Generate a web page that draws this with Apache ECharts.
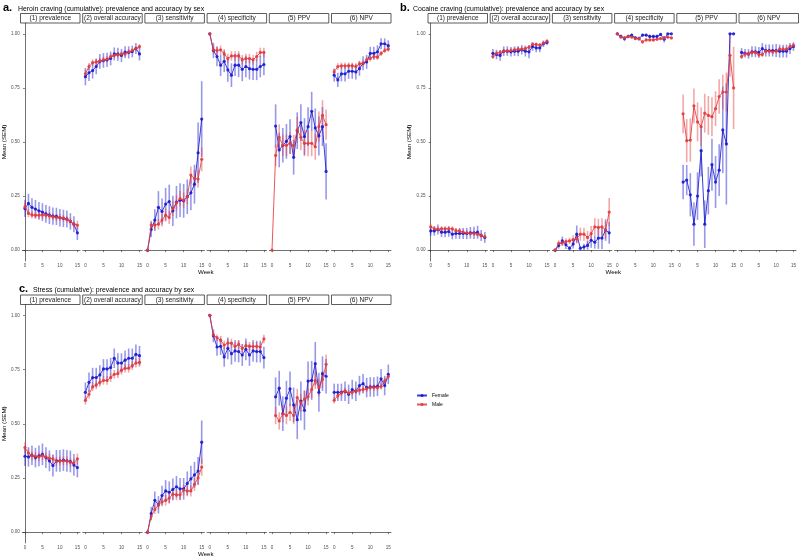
<!DOCTYPE html>
<html><head><meta charset="utf-8">
<script src="https://cdn.jsdelivr.net/npm/echarts@6/dist/echarts.min.js"></script>
<style>html,body{margin:0;padding:0;background:#fff}#c{width:799px;height:557px}</style>
</head><body><div id="c"></div>
<script>
const weeks = [0,1,2,3,4,5,6,7,8,9,10,11,12,13,14,15];
const facetNames = ['(1) prevalence','(2) overall accuracy','(3) sensitivity','(4) specificity','(5) PPV','(6) NPV'];
const xTicks = [0,5,10,15];
const yTicks = [0,0.25,0.5,0.75,1];
const sexes = ['Female','Male'];
const titleA = 'Heroin craving (cumulative): prevalence and accuracy by sex';
const titleB = 'Cocaine craving (cumulative): prevalence and accuracy by sex';
const titleC = 'Stress (cumulative): prevalence and accuracy by sex';

// ---- Panel a: Heroin craving ----
const A1_F = [0.193,0.216,0.198,0.190,0.182,0.176,0.168,0.162,0.157,0.156,0.150,0.147,0.144,0.133,0.120,0.080];
const A1_F_SE = [0.040,0.045,0.042,0.042,0.041,0.041,0.041,0.041,0.040,0.040,0.040,0.040,0.039,0.038,0.037,0.033];
const A1_M = [0.200,0.170,0.163,0.162,0.162,0.163,0.162,0.159,0.154,0.151,0.151,0.148,0.142,0.133,0.120,0.116];
const A1_M_SE = [0.018,0.018,0.017,0.017,0.017,0.017,0.016,0.016,0.016,0.016,0.016,0.015,0.015,0.015,0.015,0.020];
const A2_F = [0.802,0.820,0.830,0.849,0.873,0.877,0.880,0.886,0.907,0.906,0.900,0.915,0.914,0.918,0.932,0.907];
const A2_F_SE = [0.040,0.038,0.037,0.036,0.034,0.034,0.033,0.032,0.030,0.030,0.030,0.028,0.028,0.027,0.025,0.030];
const A2_M = [0.815,0.849,0.867,0.870,0.875,0.880,0.883,0.895,0.900,0.903,0.907,0.907,0.917,0.923,0.932,0.941];
const A2_M_SE = [0.018,0.016,0.015,0.015,0.014,0.014,0.014,0.013,0.013,0.013,0.012,0.012,0.012,0.011,0.011,0.012];
const A3_F = [0,0.096,0.139,0.198,0.179,0.213,0.225,0.182,0.222,0.231,0.228,0.247,0.265,0.305,0.450,0.606];
const A3_F_SE = [0,0.035,0.050,0.075,0.060,0.075,0.078,0.070,0.075,0.078,0.078,0.080,0.080,0.090,0.140,0.175];
const A3_M = [0,0.116,0.116,0.120,0.139,0.162,0.151,0.193,0.219,0.238,0.231,0.247,0.347,0.331,0.329,0.420];
const A3_M_SE = [0,0.020,0.020,0.025,0.030,0.030,0.030,0.035,0.035,0.035,0.035,0.035,0.040,0.040,0.040,0.055];
const A4_F = [1.000,0.923,0.895,0.855,0.873,0.833,0.809,0.855,0.855,0.836,0.849,0.839,0.836,0.836,0.849,0.858];
const A4_F_SE = [0,0.035,0.045,0.050,0.050,0.055,0.055,0.050,0.055,0.055,0.050,0.050,0.050,0.050,0.050,0.050];
const A4_M = [1.000,0.926,0.923,0.926,0.907,0.886,0.898,0.898,0.898,0.880,0.886,0.886,0.880,0.895,0.914,0.914];
const A4_M_SE = [0,0.020,0.020,0.020,0.022,0.022,0.022,0.022,0.022,0.022,0.022,0.022,0.022,0.022,0.022,0.022];
const A5_F = [null,0.574,0.463,0.485,0.503,0.525,0.429,0.552,0.590,0.525,0.571,0.642,0.565,0.528,0.571,0.364];
const A5_F_SE = [null,0.100,0.080,0.080,0.080,0.080,0.080,0.085,0.085,0.085,0.090,0.090,0.090,0.090,0.090,0.130];
const A5_M = [0.000,0.438,0.522,0.485,0.485,0.494,0.483,0.556,0.522,0.494,0.494,0.494,0.478,0.571,0.623,0.580];
const A5_M_SE = [0,0.050,0.060,0.050,0.050,0.050,0.050,0.060,0.060,0.060,0.060,0.060,0.060,0.070,0.070,0.070];
const A6_F = [0.809,0.787,0.815,0.815,0.827,0.827,0.824,0.839,0.864,0.870,0.910,0.910,0.917,0.954,0.954,0.945];
const A6_F_SE = [0.030,0.033,0.035,0.035,0.035,0.035,0.035,0.033,0.032,0.032,0.030,0.030,0.030,0.025,0.025,0.025];
const A6_M = [0.824,0.849,0.852,0.852,0.852,0.852,0.849,0.861,0.864,0.880,0.886,0.895,0.892,0.910,0.923,0.930];
const A6_M_SE = [0.015,0.015,0.015,0.015,0.015,0.015,0.015,0.015,0.014,0.014,0.014,0.013,0.013,0.012,0.012,0.012];

// ---- Panel b: Cocaine craving ----
const B1_F = [0.089,0.089,0.096,0.083,0.083,0.086,0.074,0.077,0.077,0.077,0.077,0.080,0.080,0.083,0.068,0.059];
const B1_F_SE = [0.022,0.022,0.023,0.023,0.023,0.024,0.024,0.024,0.025,0.025,0.026,0.027,0.028,0.030,0.025,0.025];
const B1_M = [0.108,0.099,0.096,0.099,0.099,0.099,0.099,0.089,0.089,0.083,0.080,0.077,0.077,0.074,0.068,0.062];
const B1_M_SE = [0.012,0.012,0.012,0.012,0.012,0.012,0.012,0.012,0.011,0.011,0.011,0.011,0.011,0.011,0.011,0.011];
const B2_F = [0.910,0.904,0.900,0.920,0.920,0.917,0.920,0.920,0.926,0.920,0.917,0.941,0.935,0.935,0.954,0.960];
const B2_F_SE = [0.020,0.022,0.025,0.022,0.022,0.022,0.022,0.024,0.022,0.025,0.030,0.020,0.020,0.020,0.015,0.012];
const B2_M = [0.895,0.910,0.914,0.920,0.920,0.923,0.926,0.929,0.929,0.932,0.938,0.951,0.951,0.948,0.957,0.966];
const B2_M_SE = [0.010,0.010,0.010,0.010,0.010,0.010,0.010,0.010,0.010,0.010,0.010,0.009,0.009,0.009,0.008,0.008];
const B3_F = [0,0.022,0.043,0.025,0.009,0.028,0.074,0.009,0.015,0.022,0.046,0.037,0.056,0.056,0.093,0.080];
const B3_F_SE = [0,0.015,0.020,0.020,0.010,0.020,0.040,0.010,0.015,0.020,0.035,0.030,0.050,0.050,0.050,0.050];
const B3_M = [0,0.031,0.034,0.040,0.043,0.049,0.052,0.074,0.074,0.059,0.077,0.108,0.105,0.108,0.093,0.176];
const B3_M_SE = [0,0.015,0.015,0.015,0.015,0.020,0.020,0.030,0.030,0.030,0.035,0.040,0.040,0.040,0.040,0.065];
const B4_F = [1.000,0.988,0.978,0.988,0.994,0.981,0.978,0.994,0.994,0.988,0.988,0.988,0.997,0.975,1.000,1.000];
const B4_F_SE = [0,0.008,0.012,0.008,0.006,0.008,0.010,0.006,0.006,0.008,0.008,0.008,0.005,0.015,0,0];
const B4_M = [1.000,0.985,0.981,0.988,0.985,0.978,0.978,0.963,0.972,0.972,0.972,0.975,0.978,0.981,0.985,0.981];
const B4_M_SE = [0,0.006,0.006,0.006,0.006,0.007,0.007,0.008,0.008,0.008,0.008,0.007,0.007,0.007,0.006,0.006];
const B5_F = [null,0.315,0.324,0.256,0.120,0.250,0.460,0.120,0.275,0.395,0.315,0.370,0.556,0.491,1.000,1.000];
const B5_F_SE = [null,0.080,0.070,0.100,0.100,0.110,0.120,0.110,0.110,0.120,0.120,0.120,0.200,0.280,0,0];
const B5_M = [null,0.630,0.506,0.509,0.667,0.593,0.571,0.633,0.623,0.617,0.654,0.710,0.731,0.731,0.901,0.750];
const B5_M_SE = [null,0.090,0.100,0.100,0.080,0.090,0.090,0.090,0.090,0.090,0.080,0.080,0.080,0.090,0.100,0.190];
const B6_F = [0.914,0.910,0.907,0.917,0.917,0.914,0.932,0.923,0.923,0.923,0.923,0.920,0.920,0.920,0.932,0.941];
const B6_F_SE = [0.020,0.020,0.022,0.025,0.025,0.025,0.025,0.028,0.028,0.028,0.030,0.030,0.030,0.030,0.025,0.020];
const B6_M = [0.895,0.907,0.907,0.914,0.914,0.904,0.904,0.920,0.920,0.917,0.920,0.929,0.929,0.929,0.941,0.947];
const B6_M_SE = [0.012,0.012,0.012,0.012,0.012,0.012,0.012,0.012,0.012,0.012,0.011,0.011,0.011,0.011,0.010,0.010];

// ---- Panel c: Stress ----
const C1_F = [0.350,0.347,0.355,0.344,0.352,0.359,0.344,0.329,0.307,0.329,0.329,0.332,0.329,0.326,0.310,0.298];
const C1_F_SE = [0.045,0.045,0.045,0.045,0.048,0.050,0.048,0.048,0.050,0.050,0.050,0.050,0.050,0.050,0.050,0.045];
const C1_M = [0.390,0.365,0.353,0.350,0.347,0.353,0.347,0.341,0.338,0.326,0.329,0.329,0.329,0.322,0.320,0.338];
const C1_M_SE = [0.025,0.020,0.020,0.020,0.020,0.020,0.020,0.020,0.020,0.020,0.020,0.020,0.020,0.020,0.020,0.025];
const C2_F = [0.645,0.691,0.713,0.713,0.725,0.753,0.753,0.759,0.802,0.780,0.780,0.793,0.802,0.802,0.820,0.814];
const C2_F_SE = [0.045,0.045,0.045,0.045,0.045,0.045,0.045,0.045,0.045,0.045,0.045,0.045,0.045,0.045,0.045,0.045];
const C2_M = [0.608,0.636,0.670,0.679,0.691,0.700,0.700,0.713,0.728,0.731,0.747,0.756,0.756,0.768,0.780,0.783];
const C2_M_SE = [0.020,0.020,0.020,0.020,0.020,0.020,0.020,0.020,0.020,0.020,0.020,0.020,0.020,0.020,0.020,0.020];
const C3_F = [0,0.086,0.147,0.126,0.169,0.190,0.184,0.197,0.209,0.200,0.200,0.225,0.246,0.264,0.282,0.415];
const C3_F_SE = [0,0.030,0.040,0.040,0.045,0.050,0.050,0.050,0.050,0.050,0.050,0.055,0.060,0.060,0.065,0.100];
const C3_M = [0,0.074,0.104,0.126,0.140,0.147,0.157,0.175,0.172,0.172,0.194,0.190,0.190,0.220,0.250,0.300];
const C3_M_SE = [0,0.020,0.020,0.020,0.020,0.025,0.025,0.025,0.025,0.025,0.025,0.025,0.025,0.030,0.030,0.040];
const C4_F = [1.000,0.906,0.854,0.857,0.808,0.848,0.823,0.836,0.833,0.817,0.843,0.817,0.836,0.833,0.833,0.805];
const C4_F_SE = [0,0.030,0.040,0.040,0.045,0.050,0.050,0.050,0.050,0.050,0.050,0.050,0.050,0.050,0.050,0.050];
const C4_M = [1.000,0.909,0.897,0.885,0.863,0.872,0.872,0.857,0.866,0.848,0.860,0.857,0.857,0.857,0.854,0.891];
const C4_M_SE = [0,0.015,0.015,0.020,0.020,0.020,0.020,0.020,0.020,0.020,0.020,0.020,0.020,0.020,0.020,0.020];
const C5_F = [null,0.624,0.664,0.547,0.618,0.661,0.587,0.519,0.605,0.562,0.697,0.700,0.777,0.645,0.731,0.719];
const C5_F_SE = [null,0.090,0.080,0.080,0.080,0.080,0.080,0.090,0.090,0.090,0.090,0.090,0.100,0.090,0.080,0.080];
const C5_M = [null,0.538,0.513,0.547,0.538,0.553,0.538,0.621,0.597,0.614,0.624,0.658,0.700,0.667,0.704,0.774];
const C5_M_SE = [null,0.040,0.040,0.040,0.040,0.040,0.040,0.040,0.040,0.040,0.040,0.040,0.040,0.040,0.040,0.045];
const C6_F = [0.645,0.645,0.645,0.650,0.636,0.658,0.650,0.676,0.685,0.667,0.670,0.670,0.673,0.707,0.676,0.728];
const C6_F_SE = [0.040,0.040,0.040,0.045,0.045,0.045,0.045,0.045,0.045,0.045,0.045,0.045,0.045,0.045,0.045,0.045];
const C6_M = [0.608,0.630,0.642,0.652,0.642,0.645,0.652,0.655,0.658,0.661,0.667,0.667,0.667,0.673,0.697,0.719];
const C6_M_SE = [0.015,0.015,0.015,0.015,0.015,0.015,0.015,0.015,0.015,0.015,0.015,0.015,0.015,0.015,0.015,0.015];

// ---- layout / styling ----
const COLORS = {Female:'#1a1ad0', Male:'#e23b3e'};
const FACET_W = 59.5, FACET_STEP = 62.2, STRIP_H = 9.5;
const panels = [
  {tag:'a.', title:titleA, x0:20.5, top:23, h:238, tagX:3, titleX:18, headY:10,
   facets:[[A1_F,A1_F_SE,A1_M,A1_M_SE],[A2_F,A2_F_SE,A2_M,A2_M_SE],[A3_F,A3_F_SE,A3_M,A3_M_SE],[A4_F,A4_F_SE,A4_M,A4_M_SE],[A5_F,A5_F_SE,A5_M,A5_M_SE],[A6_F,A6_F_SE,A6_M,A6_M_SE]]},
  {tag:'b.', title:titleB, x0:428, top:23, h:238, tagX:400, titleX:413, headY:10,
   facets:[[B1_F,B1_F_SE,B1_M,B1_M_SE],[B2_F,B2_F_SE,B2_M,B2_M_SE],[B3_F,B3_F_SE,B3_M,B3_M_SE],[B4_F,B4_F_SE,B4_M,B4_M_SE],[B5_F,B5_F_SE,B5_M,B5_M_SE],[B6_F,B6_F_SE,B6_M,B6_M_SE]]},
  {tag:'c.', title:titleC, x0:20.5, top:304.5, h:238.5, tagX:19, titleX:33, headY:291,
   facets:[[C1_F,C1_F_SE,C1_M,C1_M_SE],[C2_F,C2_F_SE,C2_M,C2_M_SE],[C3_F,C3_F_SE,C3_M,C3_M_SE],[C4_F,C4_F_SE,C4_M,C4_M_SE],[C5_F,C5_F_SE,C5_M,C5_M_SE],[C6_F,C6_F_SE,C6_M,C6_M_SE]]}
];

const FONT = 'Liberation Sans, Arial, sans-serif';
const grid = [], xAxis = [], yAxis = [], series = [], graphic = [];
let gi = 0;
panels.forEach((p) => {
  graphic.push({type:'text', left:p.tagX, top:p.headY-8, style:{text:p.tag, font:'bold 11px '+FONT, fill:'#000'}});
  graphic.push({type:'text', left:p.titleX, top:p.headY-4.5, style:{text:p.title, font:'6.9px '+FONT, fill:'#000'}});
  const totalW = FACET_STEP*5 + FACET_W;
  graphic.push({type:'text', x:p.x0 + totalW/2, y:p.top + p.h + 8, style:{text:'Week', font:'6.2px '+FONT, fill:'#000', align:'center', verticalAlign:'top'}});
  p.facets.forEach((f, k) => {
    const left = p.x0 + k*FACET_STEP;
    grid.push({left:left, top:p.top, width:FACET_W, height:p.h, containLabel:false});
    graphic.push({type:'rect', shape:{x:left, y:p.top-STRIP_H, width:FACET_W, height:STRIP_H},
      style:{fill:'#fff', stroke:'#333', lineWidth:0.8}});
    graphic.push({type:'text', x:left+FACET_W/2, y:p.top-STRIP_H/2, style:{text:facetNames[k], font:'6.5px '+FONT, fill:'#1a1a1a', align:'center', verticalAlign:'middle'}});
    xAxis.push({gridIndex:gi, type:'value', min:-0.75, max:15.75,
      axisLine:{show:true, lineStyle:{color:'#333', width:0.7}},
      axisTick:{show:true, length:2, customValues:xTicks, lineStyle:{color:'#333', width:0.6}},
      axisLabel:{show:true, customValues:xTicks, fontSize:4.6, color:'#4d4d4d', margin:2.5, fontFamily:FONT},
      splitLine:{show:false}});
    yAxis.push({gridIndex:gi, type:'value', min:-0.05, max:1.05,
      show:k===0,
      name:k===0?'Mean (SEM)':'', nameLocation:'middle', nameGap:14, nameRotate:90,
      nameTextStyle:{fontSize:6.2, color:'#000', fontFamily:FONT},
      axisLine:{show:true, lineStyle:{color:'#333', width:0.7}},
      axisTick:{show:true, length:2, customValues:yTicks, lineStyle:{color:'#333', width:0.6}},
      axisLabel:{show:true, customValues:yTicks, fontSize:4.6, color:'#4d4d4d', margin:2.5, fontFamily:FONT,
        formatter:(v)=>v.toFixed(2)},
      splitLine:{show:false}});
    [0,1].forEach((s) => {
      const name = sexes[s];
      const mean = f[s*2], se = f[s*2+1];
      const errData = [], lineData = [];
      weeks.forEach((w, i) => {
        if (mean[i] === null || mean[i] === undefined) return;
        lineData.push([w, mean[i]]);
        errData.push([w, mean[i]-se[i], mean[i]+se[i]]);
      });
      series.push({type:'custom', name:name+' SEM', xAxisIndex:gi, yAxisIndex:gi, silent:true, z:1,
        encode:{x:0, y:[1,2]}, data:errData,
        renderItem:(params, api) => {
          const a = api.coord([api.value(0), api.value(1)]);
          const b = api.coord([api.value(0), api.value(2)]);
          return {type:'line', shape:{x1:a[0], y1:a[1], x2:b[0], y2:b[1]},
            style:{stroke:COLORS[name], lineWidth:1.6, opacity:0.45}};
        }});
      series.push({type:'line', name:name, xAxisIndex:gi, yAxisIndex:gi, z:2+s,
        data:lineData, symbol:'circle', symbolSize:3.2, showSymbol:true,
        lineStyle:{color:COLORS[name], width:1, opacity:0.85},
        itemStyle:{color:COLORS[name], opacity:0.9},
        emphasis:{disabled:true}, animation:false});
    });
    gi++;
  });
});

const chart = echarts.init(document.getElementById('c'), null, {renderer:'canvas'});
chart.setOption({
  animation:false,
  backgroundColor:'#fff',
  grid, xAxis, yAxis, series, graphic,
  legend:{data:sexes, orient:'vertical', left:411, top:388, itemWidth:10, itemHeight:4, itemGap:4,
    textStyle:{fontSize:5, color:'#000', fontFamily:FONT}, selectedMode:false}
});
</script></body></html>
